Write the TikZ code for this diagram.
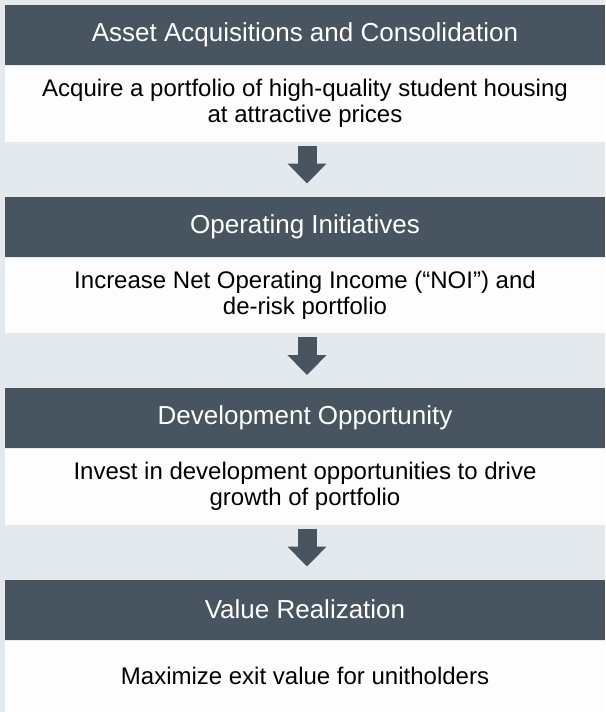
\documentclass[tikz,border=0pt]{standalone}
\usepackage{fontspec}
\setmainfont{Liberation Sans}
\usepackage{tikz}
\usetikzlibrary{arrows.meta, positioning}
\definecolor{slate}{RGB}{72,84,95}
\definecolor{paper}{RGB}{228,233,237}
\definecolor{card}{RGB}{253,253,253}
\tikzset{%
	head/.style={rectangle, fill=slate, text=white, minimum width=600pt, minimum height=60pt,%
		inner sep=0pt, outer sep=0pt, font=\fontsize{26}{30}\selectfont},
	body/.style={rectangle, fill=card, minimum width=600pt, minimum height=75.5pt,%
		inner sep=0pt, outer sep=0pt, align=center, font=\fontsize{24}{26}\selectfont},
	last/.style={minimum height=71.5pt},
	flow/.style={draw=slate, line width=19pt, -{Triangle[width=38pt,length=20pt]},%
		shorten <=4pt, shorten >=13pt}
}
\begin{document}
\begin{tikzpicture}[x=1pt, y=-1pt]
	\fill[paper] (0,0) rectangle (605,712);
	\node[head] (h1) at (305,35) {Asset Acquisitions and Consolidation};
	\node[body, below=1pt of h1] (b1) {Acquire a portfolio of high-quality student housing\\at attractive prices};
	\node[head, below=55pt of b1] (h2) {Operating Initiatives};
	\node[body, below=1pt of h2] (b2) {Increase Net Operating Income (“NOI”) and\\de-risk portfolio};
	\node[head, below=55pt of b2] (h3) {Development Opportunity};
	\node[body, below=1pt of h3] (b3) {Invest in development opportunities to drive\\growth of portfolio};
	\node[head, below=55pt of b3] (h4) {Value Realization};
	\node[body, last, below=1pt of h4] (b4) {Maximize exit value for unitholders};

	\draw[flow] ([xshift=2pt]b1.south) -- ([xshift=2pt]h2.north);
	\draw[flow] ([xshift=2pt]b2.south) -- ([xshift=2pt]h3.north);
	\draw[flow] ([xshift=2pt]b3.south) -- ([xshift=2pt]h4.north);
\end{tikzpicture}
\end{document}
